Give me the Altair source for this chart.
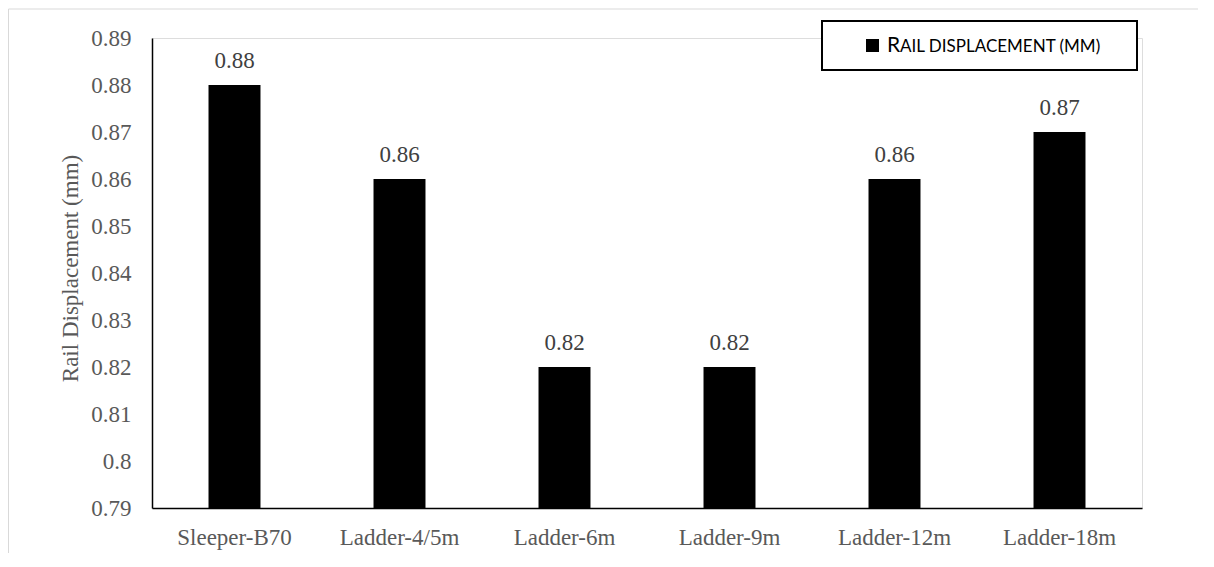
import altair as alt
import pandas as pd

categories = ["Sleeper-B70", "Ladder-4/5m", "Ladder-6m", "Ladder-9m", "Ladder-12m", "Ladder-18m"]
displacement = [0.88, 0.86, 0.82, 0.82, 0.86, 0.87]
y_ticks = [0.79, 0.80, 0.81, 0.82, 0.83, 0.84, 0.85, 0.86, 0.87, 0.88, 0.89]

df = pd.DataFrame({"case": categories, "disp": displacement})
one = pd.DataFrame({"k": [0]})

SERIF = "Liberation Serif"
FS = 23

x_enc = alt.X("case:N", sort=categories, title=None,
              scale=alt.Scale(paddingInner=0.685, paddingOuter=0.3425),
              axis=alt.Axis(labelAngle=0, labelFont=SERIF, labelFontSize=FS,
                            labelColor="#595959", labelPadding=18, ticks=False,
                            domainColor="#000000", domainWidth=1.5))
y_enc = alt.Y("disp:Q", title="Rail Displacement (mm)",
              scale=alt.Scale(domain=[0.79, 0.89], nice=False, zero=False),
              axis=alt.Axis(values=y_ticks, format=".2~f", grid=False, ticks=False,
                            labelFont=SERIF, labelFontSize=FS, labelColor="#595959",
                            labelPadding=21, domainColor="#000000", domainWidth=1.5,
                            titleFont=SERIF, titleFontSize=FS, titleFontWeight="normal",
                            titleColor="#595959", titleAngle=-90, titleX=-82, titleY=230,
                            titleAlign="center", titleBaseline="middle"))

bars = alt.Chart(df).mark_bar(color="#000000", clip=True).encode(
    x=x_enc, y=y_enc, y2=alt.Y2(datum=0.79))
labels = alt.Chart(df).mark_text(font=SERIF, fontSize=FS, color="#404040",
                                 baseline="alphabetic", dy=-17).encode(
    x=alt.X("case:N", sort=categories), y="disp:Q", text=alt.Text("disp:Q", format=".2f"))

legend_box = alt.Chart(one).mark_rect(fill="white", stroke="#000000", strokeWidth=2).encode(
    x=alt.value(670), x2=alt.value(985), y=alt.value(-17), y2=alt.value(32))
legend_sq = alt.Chart(one).mark_rect(color="#000000").encode(
    x=alt.value(714), x2=alt.value(727), y=alt.value(1), y2=alt.value(14))
legend_r = alt.Chart(one).mark_text(font="Lato", fontSize=21, color="#000000",
                                    align="left", baseline="alphabetic").encode(
    x=alt.value(735), y=alt.value(14), text=alt.value("R"))
legend_rest = alt.Chart(one).mark_text(font="Lato", fontSize=17, color="#000000",
                                       align="left", baseline="alphabetic").encode(
    x=alt.value(748), y=alt.value(14), text=alt.value("AIL DISPLACEMENT (MM)"))

border_top = alt.Chart(one).mark_rule(color="#d9d9d9", strokeWidth=1).encode(
    x=alt.value(-143.5), x2=alt.value(1100), y=alt.value(-29))
border_left = alt.Chart(one).mark_rule(color="#d9d9d9", strokeWidth=1).encode(
    x=alt.value(-143.5), y=alt.value(-29), y2=alt.value(600))

chart = alt.layer(border_top, border_left, bars, labels, legend_box, legend_sq,
                  legend_r, legend_rest).properties(
    width=990, height=470,
    autosize=alt.AutoSizeParams(type="none"),
    padding={"left": 144, "top": 30, "right": 56, "bottom": 45},
).configure_view(stroke=None).configure(background="white")

chart.save("out.html", embed_options={"renderer": "svg", "actions": False})
